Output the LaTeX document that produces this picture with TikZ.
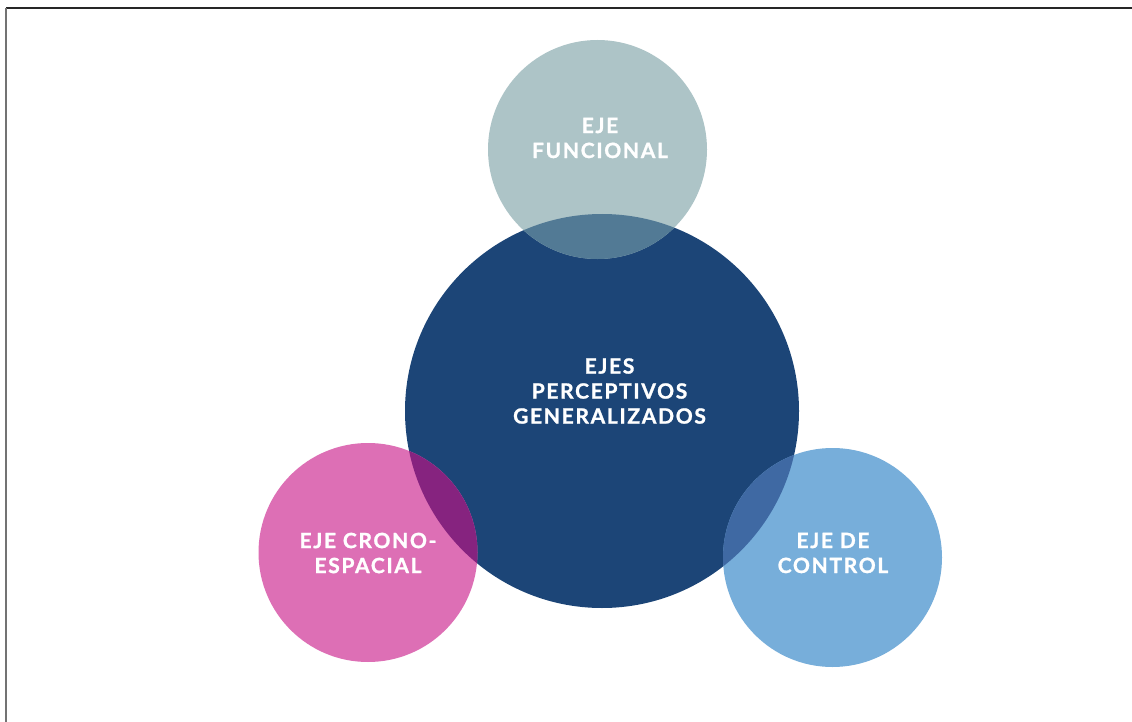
\documentclass[tikz,border=0pt]{standalone}
\usepackage{fontspec}
\setmainfont{Lato}[BoldFont={Lato Bold}]
\newfontfamily\lblfont{Lato Bold}[LetterSpace=8,FakeBold=1.2]
\definecolor{cTop}{HTML}{ADC4C7}
\definecolor{cBig}{HTML}{1C4577}
\definecolor{cPink}{HTML}{DD6FB5}
\definecolor{cBlue}{HTML}{77AEDA}
\definecolor{oTop}{HTML}{527A95}
\definecolor{oPink}{HTML}{86237F}
\definecolor{oBlue}{HTML}{3F69A3}
\tikzset{
  lbl/.style={text=white, align=center, font=\lblfont\fontsize{21}{25}\selectfont, inner sep=0pt},
}
\begin{document}
\begin{tikzpicture}[x=1pt,y=-1pt]
\useasboundingbox (0,0) rectangle (1132,722);
\fill[white] (0,0) rectangle (1132,722);
\draw[line width=1.6pt, color=black!85] (6,8.3) -- (1132,8.3);
\draw[line width=1.6pt, color=black!55] (6,8.3) -- (6,722);
% circles
\coordinate (cb) at (602,411);
\coordinate (ct) at (597.5,149.5);
\coordinate (cp) at (368,552.5);
\coordinate (cr) at (832.5,557.5);
\fill[cBig] (cb) circle (197);
\fill[cTop] (ct) circle (109.5);
\fill[cPink] (cp) circle (109.5);
\fill[cBlue] (cr) circle (109.5);
\begin{scope}
\clip (ct) circle (109.5);
\fill[oTop] (cb) circle (197);
\end{scope}
\begin{scope}
\clip (cp) circle (109.5);
\fill[oPink] (cb) circle (197);
\end{scope}
\begin{scope}
\clip (cr) circle (109.5);
\fill[oBlue] (cb) circle (197);
\end{scope}
% labels
\node[lbl] (tBig) at (609.5,391) {EJES\\PERCEPTIVOS\\GENERALIZADOS};
\node[lbl] (tTop) at (600,138) {EJE\\FUNCIONAL};
\node[lbl] (tPink) at (368,553) {EJE CRONO-\\ESPACIAL};
\node[lbl] (tBlue) at (833,553) {EJE DE\\CONTROL};
\end{tikzpicture}
\end{document}
